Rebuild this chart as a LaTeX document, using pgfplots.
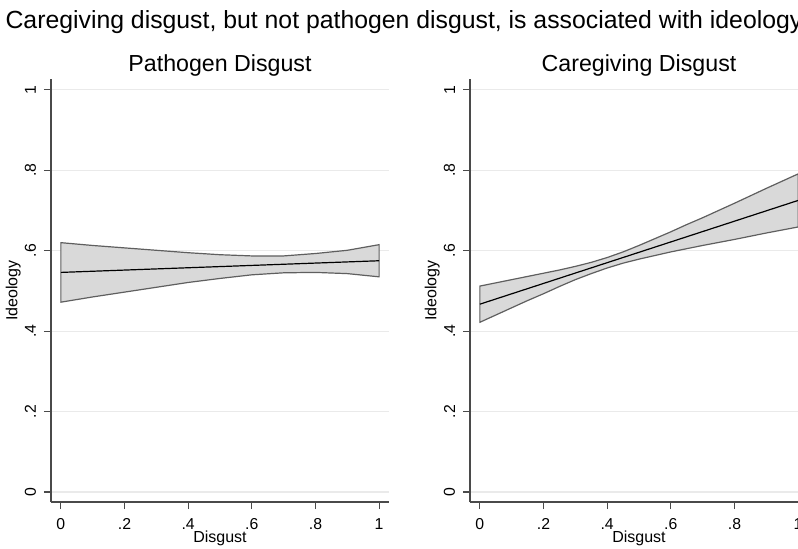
\documentclass[border=0pt]{standalone}
\usepackage{fontspec}
\setmainfont{Liberation Sans}
\usepackage{pgfplots}
\usepackage{pgfplotstable}
\pgfplotsset{compat=1.18}

\definecolor{bandfill}{HTML}{D9D9D9}
\definecolor{bandedge}{HTML}{5F5F5F}
\definecolor{axisgray}{HTML}{4A4A4A}
\definecolor{gridgray}{HTML}{EAEAEA}

% confidence band as one closed polygon: upper bound left to right, lower bound back
\pgfplotstableread{
x     y
0.0   0.620
0.1   0.613
0.2   0.607
0.3   0.601
0.4   0.595
0.5   0.590
0.6   0.587
0.7   0.587
0.8   0.593
0.9   0.601
1.0   0.615
1.0   0.535
0.9   0.543
0.8   0.546
0.7   0.545
0.6   0.540
0.5   0.531
0.4   0.521
0.3   0.509
0.2   0.497
0.1   0.485
0.0   0.472
}\pathband

\pgfplotstableread{
x     y
0.0   0.546
1.0   0.575
}\pathfit

\pgfplotstableread{
x     y
0.00  0.512
0.10  0.528
0.15  0.536
0.20  0.544
0.25  0.552
0.30  0.561
0.35  0.571
0.40  0.583
0.45  0.597
0.50  0.613
0.55  0.630
0.60  0.647
0.65  0.665
0.70  0.682
0.80  0.718
0.90  0.755
1.00  0.791
1.00  0.659
0.90  0.644
0.80  0.628
0.70  0.613
0.65  0.605
0.60  0.597
0.55  0.588
0.50  0.579
0.45  0.569
0.40  0.557
0.35  0.543
0.30  0.528
0.25  0.511
0.20  0.493
0.15  0.476
0.10  0.458
0.00  0.422
}\careband

\pgfplotstableread{
x     y
0.0   0.467
1.0   0.725
}\carefit

\pgfplotsset{
  stata/.style={
    anchor=south west,
    scale only axis,
    width=169pt, height=211.5pt,
    xmin=-0.031, xmax=1.031,
    ymin=-0.025, ymax=1.027,
    axis x line*=bottom, axis y line*=left,
    axis line style={axisgray, line width=0.6pt},
    xtick={0,0.2,0.4,0.6,0.8,1}, xticklabels={0,.2,.4,.6,.8,1},
    ytick={0,0.2,0.4,0.6,0.8,1}, yticklabels={0,.2,.4,.6,.8,1},
    tick align=outside, major tick length=3.5pt,
    tick style={axisgray, line width=0.6pt},
    ymajorgrids, grid style={gridgray, line width=0.6pt},
    ticklabel style={font=\fontsize{7.9}{9}\selectfont},
    yticklabel style={rotate=90, anchor=south, inner sep=3.8pt},
    xticklabel style={anchor=north, inner sep=4.5pt},
    xlabel={Disgust}, ylabel={Ideology},
    label style={font=\fontsize{8}{9.5}\selectfont},
    xlabel style={at={(axis description cs:0.5,0)}, anchor=center, yshift=-18pt},
    ylabel style={at={(axis description cs:-0.112,0.5)}, anchor=center},
    clip=false,
  },
  band/.style={fill=bandfill, draw=bandedge, line width=0.6pt},
  fit/.style={black, line width=0.6pt},
}

\begin{document}
\begin{tikzpicture}
\begin{axis}[stata, at={(25.5pt,23pt)}]
\addplot[band] table {\pathband} -- cycle;
\addplot[fit] table {\pathfit};
\end{axis}

\begin{axis}[stata, at={(235pt,23pt)}]
\addplot[band] table {\careband} -- cycle;
\addplot[fit] table {\carefit};
\end{axis}

\node[font=\fontsize{12.4}{14}\selectfont] at (202pt,263pt)
  {Caregiving disgust, but not pathogen disgust, is associated with ideology};
\node[font=\fontsize{11.6}{13}\selectfont] at (110pt,241pt) {Pathogen Disgust};
\node[font=\fontsize{11.6}{13}\selectfont] at (319.5pt,241pt) {Caregiving Disgust};

\pgfresetboundingbox
\path[use as bounding box] (0,0) rectangle (399pt,274pt);
\end{tikzpicture}
\end{document}
